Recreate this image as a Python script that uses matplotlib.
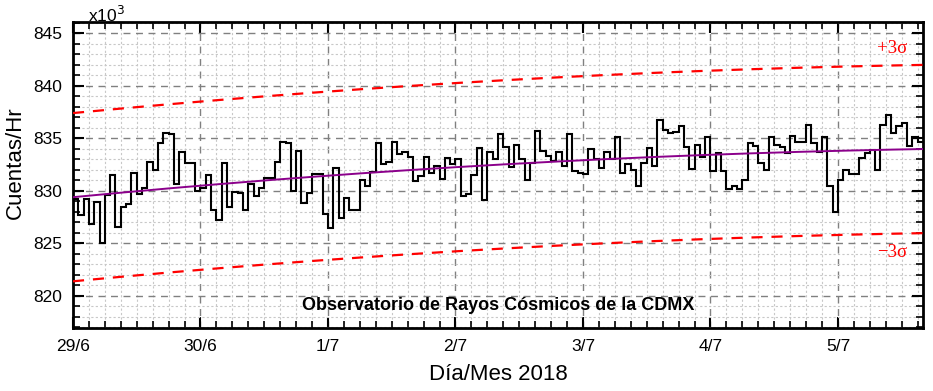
import numpy as np
import matplotlib
matplotlib.use("Agg")
import matplotlib.pyplot as plt
from matplotlib.ticker import MultipleLocator

plt.rcParams['font.family'] = ['Liberation Sans', 'DejaVu Sans']

# ---- data (counts per hour, x10^3), hourly from 29/6 00h ----
counts_k = [
    829.2, 827.7, 829.2, 826.8, 828.9, 825.0, 829.6, 831.5, 826.6, 828.5, 828.7, 831.7,
    829.7, 830.3, 832.7, 832.0, 834.5, 835.5, 835.4, 830.6, 833.7, 832.6, 832.6, 830.0,
    830.3, 831.5, 828.2, 827.2, 832.6, 828.5, 829.9, 829.8, 828.2, 830.6, 829.5, 830.3,
    831.2, 831.2, 832.7, 834.6, 834.5, 830.0, 833.8, 828.8, 829.8, 831.6, 831.6, 827.8,
    826.5, 832.2, 827.4, 829.3, 828.2, 828.2, 831.0, 830.5, 831.8, 834.5, 832.5, 832.7,
    834.6, 833.5, 833.7, 833.2, 830.9, 831.4, 833.2, 831.7, 832.4, 831.1, 833.1, 832.5,
    833.0, 829.5, 829.7, 831.5, 834.1, 829.1, 833.7, 833.0, 835.4, 834.2, 832.3, 834.4,
    833.0, 831.0, 832.6, 835.7, 833.8, 833.3, 832.8, 833.7, 832.4, 835.4, 831.9, 831.7,
    831.6, 834.0, 833.0, 832.2, 833.7, 833.0, 835.1, 831.7, 832.5, 832.0, 830.5, 832.6,
    834.1, 832.4, 836.7, 835.8, 835.5, 835.6, 836.2, 834.2, 832.1, 834.4, 833.2, 835.1,
    831.9, 833.6, 831.9, 830.2, 830.5, 830.2, 831.0, 834.5, 834.3, 832.6, 832.0, 835.1,
    834.4, 834.2, 833.6, 835.2, 834.6, 834.6, 836.3, 834.5, 833.7, 835.1, 830.5, 828.0,
    831.0, 832.0, 831.6, 831.6, 833.1, 833.6, 833.9, 832.0, 836.3, 837.2, 835.5, 836.2,
    836.4, 834.3, 835.1, 834.6,
]
# trend curve read at day positions
trend_days = [0, 1, 2, 3, 4, 5, 6, 6.667]
trend_vals = [829.4, 830.5, 831.4, 832.2, 832.95, 833.45, 833.8, 833.95]
sigma3 = 8.0
day_labels = ["29/6", "30/6", "1/7", "2/7", "3/7", "4/7", "5/7"]
title_text = "Observatorio de Rayos Cósmicos de la CDMX"

# ---- figure ----
W, H, DPI = 933, 391, 100
fig = plt.figure(figsize=(W / DPI, H / DPI), dpi=DPI)
ax = fig.add_axes([73 / W, 1 - 328 / H, (923 - 73) / W, (328 - 22) / H])

n = len(counts_k)
edges = np.arange(n + 1) / 24.0

# trend (smooth through read points)
tcoef = np.polyfit(trend_days, trend_vals, 2)
tx = np.linspace(0, n / 24.0, 300)
ty = np.polyval(tcoef, tx)

ax.plot(tx, ty + sigma3, color="#ff0000", lw=1.6, ls=(0, (5, 4)), zorder=3)
ax.plot(tx, ty - sigma3, color="#ff0000", lw=1.6, ls=(0, (5, 4)), zorder=3)
ax.stairs(counts_k, edges, baseline=None, color="black", lw=1.5, zorder=4)
ax.plot(tx, ty, color="#8b008b", lw=1.4, zorder=5)

ax.set_xlim(0, n / 24.0)
ax.set_ylim(816.95, 846.05)

ax.xaxis.set_major_locator(MultipleLocator(1))
ax.xaxis.set_minor_locator(MultipleLocator(1 / 8))
ax.yaxis.set_major_locator(MultipleLocator(5))
ax.yaxis.set_minor_locator(MultipleLocator(1))
ax.set_xticks(range(len(day_labels)))
ax.set_xticklabels(day_labels, fontsize=12.5)
ax.set_yticks([820, 825, 830, 835, 840, 845])
ax.set_yticklabels(["820", "825", "830", "835", "840", "845"], fontsize=12.5)

ax.grid(which="major", color="#808080", ls=(0, (5, 4)), lw=1.0, zorder=1)
ax.grid(which="minor", color="#c8c8c8", ls=(0, (2, 2)), lw=0.8, zorder=0)
ax.set_axisbelow(True)

ax.tick_params(which="both", direction="in", top=True, right=True, colors="black")
ax.tick_params(which="major", length=8, width=1.5, pad=8)
ax.tick_params(which="minor", length=5, width=1.2)
for s in ax.spines.values():
    s.set_linewidth(2.0)

fig.text(15 / W, 1 - 163 / H, "Cuentas/Hr", fontsize=16, rotation=90,
         ha="center", va="center")
fig.text(498 / W, 1 - 375 / H, "Día/Mes 2018", fontsize=16, ha="center", va="center")

fig.text(88 / W, 1 - 15 / H, r"x10$^3$", fontsize=12.5, va="center", ha="left")

ax.text(0.5, 0.075, title_text, transform=ax.transAxes, ha="center", va="center",
        fontsize=13, fontweight="bold")

serif = ["Liberation Serif", "DejaVu Serif"]
ax.text(6.54, 843.57, "+3σ", color="#ff0000", fontsize=13.5, ha="right", va="center",
        family=serif)
ax.text(6.54, 824.15, "\u22123σ", color="#ff0000", fontsize=13.5, ha="right", va="center",
        family=serif)

fig.savefig("out.png", dpi=DPI)
